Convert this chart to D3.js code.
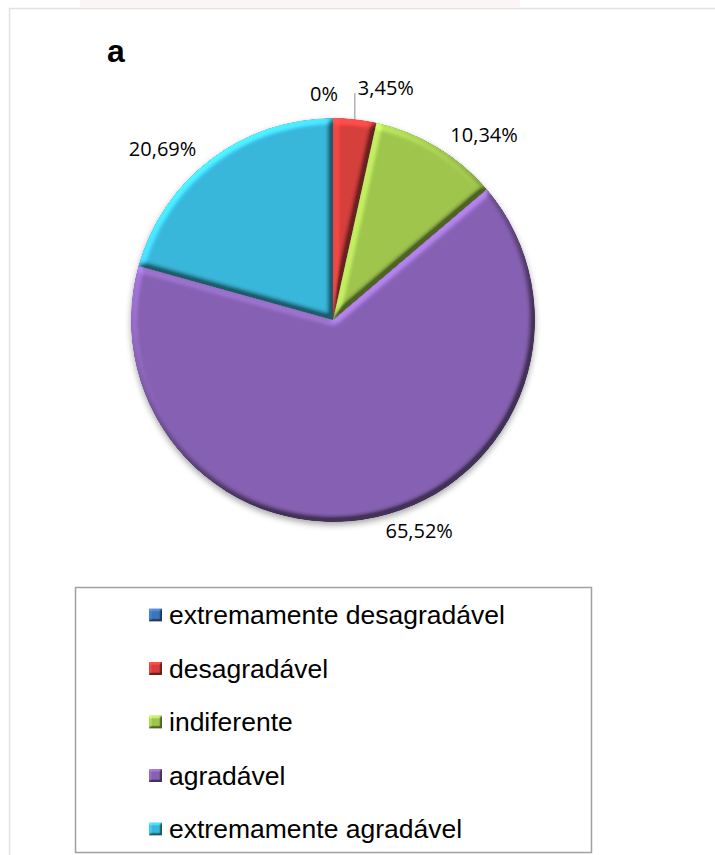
<!DOCTYPE html>
<html lang="pt">
<head>
<meta charset="UTF-8">
<title>a</title>
<style>
  body { margin: 0; background: #fff; }
  svg { display: block; }
  .lbl { font: 20px "Open Sans", sans-serif; fill: #000; }
  .leg { font: 26.5px "Liberation Sans", Arial, sans-serif; fill: #000; }
  .title { font: bold 32px "Liberation Sans", Arial, sans-serif; fill: #000; }
</style>
</head>
<body>
<div id="chart"></div>
<script src="https://cdn.jsdelivr.net/npm/d3@7"></script>
<script>
// data
var categories = ["extremamente desagradável", "desagradável", "indiferente", "agradável", "extremamente agradável"];
var percents = [0, 3.45, 10.34, 65.52, 20.69];
var percentLabels = ["0%", "3,45%", "10,34%", "65,52%", "20,69%"];
var colors = ["#3f74b9", "#d53f3c", "#a0c54e", "#8661b2", "#39b7da"];

var width = 715, height = 855;
var cx = 333, cy = 320, r = 202;

var svg = d3.select("#chart").append("svg")
    .attr("width", width)
    .attr("height", height);

var defs = svg.append("defs");

// bevel look: diffuse light from the top left, interior colour kept
function bevel(id, blur, scale) {
    var f = defs.append("filter").attr("id", id)
        .attr("x", "-5%").attr("y", "-5%").attr("width", "110%").attr("height", "110%")
        .attr("color-interpolation-filters", "sRGB");
    f.append("feGaussianBlur").attr("in", "SourceAlpha").attr("stdDeviation", blur).attr("result", "b");
    f.append("feDiffuseLighting").attr("in", "b").attr("surfaceScale", scale)
        .attr("diffuseConstant", 1).attr("lighting-color", "#fff").attr("result", "d")
        .append("feDistantLight").attr("azimuth", 235).attr("elevation", 36);
    f.append("feComposite").attr("in", "SourceGraphic").attr("in2", "d")
        .attr("operator", "arithmetic").attr("k1", 0.85).attr("k2", 0.5).attr("k3", 0).attr("k4", 0)
        .attr("result", "lit");
    f.append("feComposite").attr("in", "lit").attr("in2", "SourceAlpha").attr("operator", "in");
}
bevel("bevel", 3, 6);
bevel("bevelSmall", 1.2, 3);

var shadow = defs.append("filter").attr("id", "shadow")
    .attr("x", "-10%").attr("y", "-10%").attr("width", "120%").attr("height", "125%");
shadow.append("feDropShadow").attr("dx", 0).attr("dy", 3).attr("stdDeviation", 3)
    .attr("flood-color", "#000").attr("flood-opacity", 0.35);

// chart frame + faint strip at the top
svg.append("rect").attr("x", 80).attr("y", 0).attr("width", 440).attr("height", 7)
    .attr("fill", "#fbf5f5");
svg.append("rect").attr("x", 9.5).attr("y", 8.5).attr("width", 730).attr("height", 870)
    .attr("fill", "#fff").attr("stroke", "#e2e2e2").attr("stroke-width", 1.5);

svg.append("text").attr("class", "title").attr("x", 107).attr("y", 62).text("a");

// pie
var pie = d3.pie().sort(null).value(function (d) { return d; });
var arcs = pie(percents);
var arc = d3.arc().innerRadius(0).outerRadius(r);

var g = svg.append("g").attr("transform", "translate(" + cx + "," + cy + ")");
var slices = g.append("g").attr("filter", "url(#shadow)");
slices.selectAll("path")
    .data(arcs.filter(function (d) { return d.value > 0; }))
    .enter().append("path")
    .attr("d", arc)
    .attr("fill", function (d) { return colors[d.index]; })
    .attr("filter", "url(#bevel)");

// labels
var R = r + 14;
arcs.forEach(function (d, i) {
    var a = (d.startAngle + d.endAngle) / 2;
    var s = Math.sin(a), c = Math.cos(a);
    var t = g.append("text").attr("class", "lbl")
        .attr("dominant-baseline", "central")
        .text(percentLabels[i]);
    var w = t.node().getComputedTextLength();
    if (d.value === 0) {
        t.attr("text-anchor", "middle").attr("x", s * R - 9).attr("y", -c * (r + 25));
    } else if (d.value < 5) {
        var x0 = s * r, y0 = -c * r;
        var y1 = y0 - 26;
        g.append("line").attr("x1", x0).attr("y1", y0).attr("x2", x0).attr("y2", y1)
            .attr("stroke", "#8c8c8c").attr("stroke-width", 1);
        t.attr("text-anchor", "start").attr("x", x0 + 3).attr("y", y1 - 6);
    } else {
        var sign = s >= 0 ? 1 : -1;
        t.attr("text-anchor", "middle")
            .attr("x", s * R + sign * (w / 2 + 6))
            .attr("y", -c * R);
    }
});

// legend
var legX = 75, legY = 587, legW = 516, legH = 265;
svg.append("rect").attr("x", legX + 0.5).attr("y", legY + 0.5)
    .attr("width", legW).attr("height", legH)
    .attr("fill", "#fff").attr("stroke", "#a0a0a0").attr("stroke-width", 1.5);

var ly = d3.scalePoint().domain(categories).range([615, 829]);
var item = svg.selectAll(".item").data(categories).enter().append("g")
    .attr("class", "item")
    .attr("transform", function (d) { return "translate(149," + ly(d) + ")"; });
item.append("rect").attr("x", 0).attr("y", -6.5).attr("width", 13).attr("height", 13)
    .attr("fill", function (d, i) { return colors[i]; })
    .attr("filter", "url(#bevelSmall)");
item.append("text").attr("class", "leg").attr("x", 20).attr("y", 0)
    .attr("dominant-baseline", "central")
    .text(function (d) { return d; });
</script>
</body>
</html>
